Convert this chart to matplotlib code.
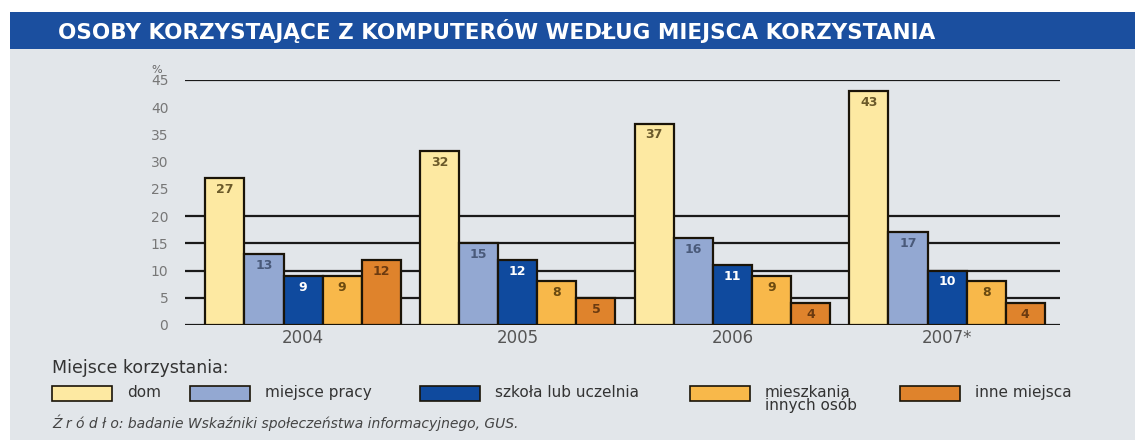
import matplotlib.pyplot as plt
import numpy as np
from matplotlib.patches import Rectangle

# data
years = ['2004', '2005', '2006', '2007*']
series_names = ['dom', 'miejsce pracy', 'szkoła lub uczelnia',
                'mieszkania\ninnych osób', 'inne miejsca']
dom = [27, 32, 37, 43]
praca = [13, 15, 16, 17]
szkola = [9, 12, 11, 10]
mieszkania = [9, 8, 9, 8]
inne = [12, 5, 4, 4]
yticks = [0, 5, 10, 15, 20, 25, 30, 35, 40, 45]
grid_at = [0, 5, 10, 15, 20, 45]

colors = ['#fde9a2', '#93a8d2', '#0f4a9e', '#f8b84a', '#df832c']
label_colors = ['#6b5a2a', '#4a5a7a', 'white', '#6b4a10', '#6b3a10']

W, H = 1135, 444
fig = plt.figure(figsize=(W / 100, H / 100), dpi=100)
fig.patch.set_facecolor('white')


def px(x0, y0, x1, y1):
    # pixel box -> figure fraction (left, bottom, width, height)
    return (x0 / W, 1 - y1 / H, (x1 - x0) / W, (y1 - y0) / H)


bx, by, bw, bh = px(10, 49, 1135, 440)
fig.patches.append(Rectangle((bx, by), bw, bh, transform=fig.transFigure,
                             facecolor='#e2e6ea', edgecolor='none', zorder=-10))
tx, ty, tw, th = px(10, 12, 1135, 49)
fig.patches.append(Rectangle((tx, ty), tw, th, transform=fig.transFigure,
                             facecolor='#1b4f9f', edgecolor='none', zorder=-10))
fig.text(58 / W, 1 - 31 / H, 'OSOBY KORZYSTAJĄCE Z KOMPUTERÓW WEDŁUG MIEJSCA KORZYSTANIA',
         color='white', fontsize=15.5, fontweight='bold', va='center', ha='left')

ax = fig.add_axes(px(185, 80, 1060, 325))
ax.set_zorder(1)
ax.set_facecolor('none')
ax.set_xlim(-0.55, 3.526)
ax.set_ylim(0, 45)

for g in grid_at:
    ax.axhline(g, color='#1a1a1a', lw=1.6, zorder=1)

data = [dom, praca, szkola, mieszkania, inne]
x = np.arange(len(years))
bw_ = 0.182
for i, vals in enumerate(data):
    xs = x + (i - 2) * bw_
    ax.bar(xs, vals, width=bw_, color=colors[i], edgecolor='#1a1408',
           linewidth=1.6, zorder=2)
    for xx, v in zip(xs, vals):
        ax.text(xx, v - 0.9, f'{v}', ha='center', va='top', fontsize=9,
                color=label_colors[i], fontweight='bold', zorder=3)

ax.set_yticks(yticks)
ax.set_yticklabels([str(t) for t in yticks], color='#777777', fontsize=10)
ax.tick_params(axis='y', length=0, pad=12)
ax.set_xticks(x)
ax.set_xticklabels(years, color='#555555', fontsize=12)
ax.tick_params(axis='x', length=0, pad=3)
for s in ax.spines.values():
    s.set_visible(False)
ax.text(-0.026, 46.0, '%', transform=ax.get_yaxis_transform(), ha='right',
        va='bottom', fontsize=8, color='#666666')

# legend
fig.text(52 / W, 1 - 368 / H, 'Miejsce korzystania:', fontsize=12.5,
         color='#333333', va='center', ha='left')
leg_x = [52, 190, 420, 690, 900]
for i, name in enumerate(series_names):
    rx, ry, rw, rh = px(leg_x[i], 386, leg_x[i] + 60, 401)
    fig.patches.append(Rectangle((rx, ry), rw, rh, transform=fig.transFigure,
                                 facecolor=colors[i], edgecolor='#1a1408',
                                 linewidth=1.2, zorder=2))
    fig.text((leg_x[i] + 75) / W, 1 - 385 / H, name, fontsize=11,
             color='#333333', va='top', ha='left', linespacing=0.8)

fig.text(52 / W, 1 - 423 / H,
         'Ź r ó d ł o: badanie Wskaźniki społeczeństwa informacyjnego, GUS.',
         fontsize=10, color='#444444', style='italic', va='center', ha='left')

fig.savefig('out.png', dpi=100, facecolor=fig.get_facecolor())
